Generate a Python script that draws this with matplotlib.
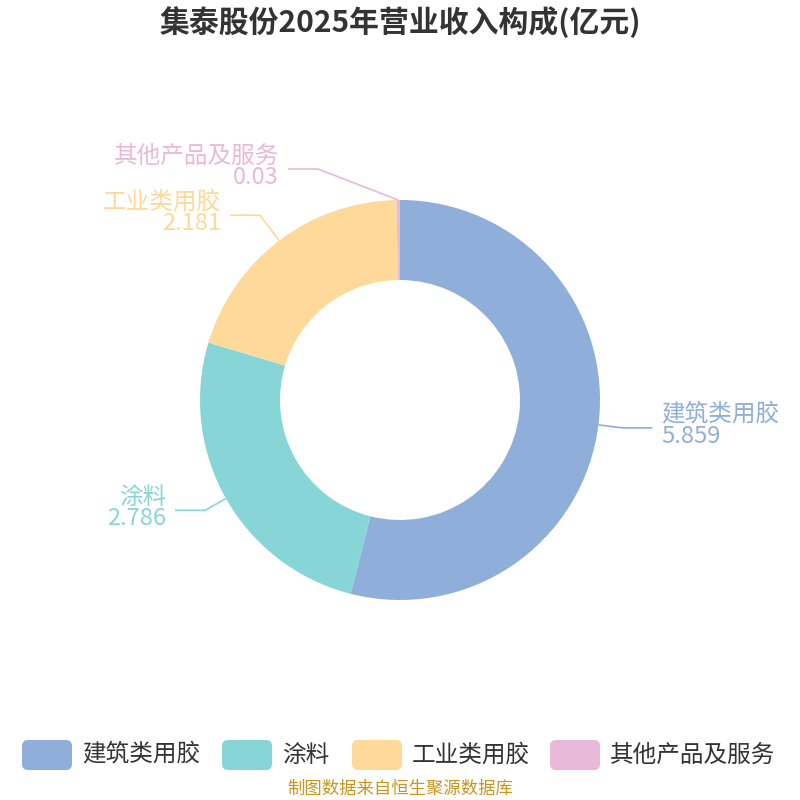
import matplotlib.pyplot as plt
import numpy as np
from matplotlib.patches import FancyBboxPatch

plt.rcParams['font.family'] = ['Noto Sans CJK SC', 'DejaVu Sans']

title = '集泰股份2025年营业收入构成(亿元)'
source = '制图数据来自恒生聚源数据库'
categories = ['建筑类用胶', '涂料', '工业类用胶', '其他产品及服务']
values = [5.859, 2.786, 2.181, 0.03]
value_labels = ['5.859', '2.786', '2.181', '0.03']
colors = ['#8FAEDA', '#88D5D8', '#FFD99A', '#E8B9D9']

W, H = 800, 800
cx, cy = 400, 400
r_out, r_in = 200, 120

fig = plt.figure(figsize=(8, 8), dpi=100)
ax = fig.add_axes([0, 0, 1, 1])

wedges, _ = ax.pie(values, colors=colors, startangle=90, counterclock=False,
                   radius=r_out, center=(cx, cy),
                   wedgeprops=dict(width=r_out - r_in, linewidth=0))
# pie resets the limits, so set them afterwards
ax.set_xlim(0, W)
ax.set_ylim(0, H)
ax.set_aspect('equal')
ax.axis('off')

# leader lines + labels
elbow_r = [224, 224, 232, 0]
for i, w in enumerate(wedges):
    mid = np.deg2rad((w.theta1 + w.theta2) / 2)
    x0, y0 = cx + r_out * np.cos(mid), cy + r_out * np.sin(mid)
    if i == 3:
        # tiny slice: label pushed up-left to avoid overlap
        x1, y1 = 318, H - 169
    else:
        x1, y1 = cx + elbow_r[i] * np.cos(mid), cy + elbow_r[i] * np.sin(mid)
    side = 1 if np.cos(mid) > 0 else -1
    x2 = x1 + side * 30
    ax.plot([x0, x1, x2], [y0, y1, y1], color=colors[i], lw=1.2,
            solid_capstyle='butt')
    ha = 'left' if side > 0 else 'right'
    tx = x2 + side * 9
    ax.text(tx, y1 + 1, categories[i], color=colors[i], fontsize=17,
            ha=ha, va='bottom')
    ax.text(tx, y1 + 3, value_labels[i], color=colors[i], fontsize=17,
            ha=ha, va='top')

ax.text(W / 2, H - 22, title, fontsize=21.5, fontweight='bold', color='#333333',
        ha='center', va='center')

# legend
box_x = [22, 222, 352, 550]
ly = H - 755
for i, name in enumerate(categories):
    ax.add_patch(FancyBboxPatch((box_x[i] + 4, ly - 11), 42, 22,
                                boxstyle='round,pad=4,rounding_size=6',
                                facecolor=colors[i], edgecolor='none'))
    ax.text(box_x[i] + 60, ly, name, fontsize=17, color='#333333',
            ha='left', va='center')

ax.text(W / 2, H - 789, source, fontsize=12.5, color='#C8961E',
        ha='center', va='center')

plt.savefig('out.png', dpi=100)
plt.close()
